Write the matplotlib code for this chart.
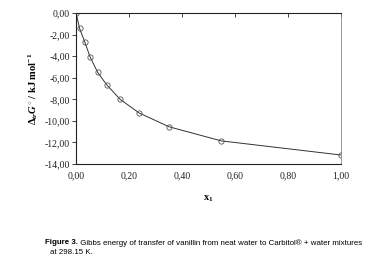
import matplotlib
matplotlib.use("Agg")
import matplotlib.pyplot as plt
from matplotlib.ticker import FuncFormatter, MultipleLocator

# mole fraction of Carbitol and Gibbs energy of transfer (kJ/mol)
x1 = [0.0, 0.013, 0.033, 0.052, 0.081, 0.115, 0.166, 0.238, 0.351, 0.548, 1.0]
dG = [0.0, -1.43, -2.70, -4.03, -5.49, -6.64, -8.00, -9.27, -10.55, -11.86, -13.17]

plt.rcParams['font.family'] = ['Liberation Serif', 'DejaVu Serif']
plt.rcParams['mathtext.fontset'] = 'custom'
plt.rcParams['mathtext.rm'] = 'Liberation Serif:bold'
plt.rcParams['mathtext.bf'] = 'Liberation Serif:bold'
plt.rcParams['mathtext.it'] = 'Liberation Serif:italic:bold'

fig = plt.figure(figsize=(3.75, 2.67), dpi=100)
ax = fig.add_axes([0.203, 0.386, 0.706, 0.565])

ax.plot(x1, dG, color='#333333', linewidth=0.7, marker='o', markersize=3.8,
        markerfacecolor='none', markeredgecolor='#555555', markeredgewidth=0.6)

ax.set_xlim(0, 1.0)
ax.set_ylim(-14, 0)
ax.xaxis.set_major_locator(MultipleLocator(0.2))
ax.yaxis.set_major_locator(MultipleLocator(2))
comma = FuncFormatter(lambda v, p: f'{v:.2f}'.replace('.', ','))
ax.xaxis.set_major_formatter(comma)
ax.yaxis.set_major_formatter(comma)

# x axis crosses at y=0 (top), labels stay at bottom
ax.tick_params(axis='x', top=True, bottom=False, labeltop=False, labelbottom=True,
               direction='in', length=3, width=0.6, pad=5.5, labelsize=7, colors='#222222')
ax.tick_params(axis='y', direction='out', length=3, width=0.6, pad=1.5, labelsize=7,
               colors='#222222')

for side in ['left', 'top', 'bottom']:
    ax.spines[side].set_color('#222222')
    ax.spines[side].set_linewidth(0.8)
ax.spines['right'].set_color('#888888')
ax.spines['right'].set_linewidth(0.6)

ax.set_ylabel(r'$\Delta_{tr}\mathit{G}^{\circ}$ / kJ mol$^{-1}$', fontsize=7.6, fontweight='bold',
              labelpad=3)
ax.set_xlabel(r'$\mathrm{x}_{1}$', fontsize=7.5, labelpad=9)

cap_font = ['Liberation Sans Narrow', 'Liberation Sans', 'DejaVu Sans']
t1 = fig.text(0.12, 0.09, 'Figure 3.', fontsize=5.7, fontweight='bold', family=cap_font,
              va='center', ha='left')
ax.annotate(' Gibbs energy of transfer of vanillin from neat water to Carbitol® + water mixtures',
            xy=(1, 0.5), xycoords=t1, va='center', ha='left', fontsize=5.7, family=cap_font)
fig.text(0.133, 0.056, 'at 298.15 K.', fontsize=5.7, family=cap_font, va='center', ha='left')

fig.savefig('out.png', dpi=100)
